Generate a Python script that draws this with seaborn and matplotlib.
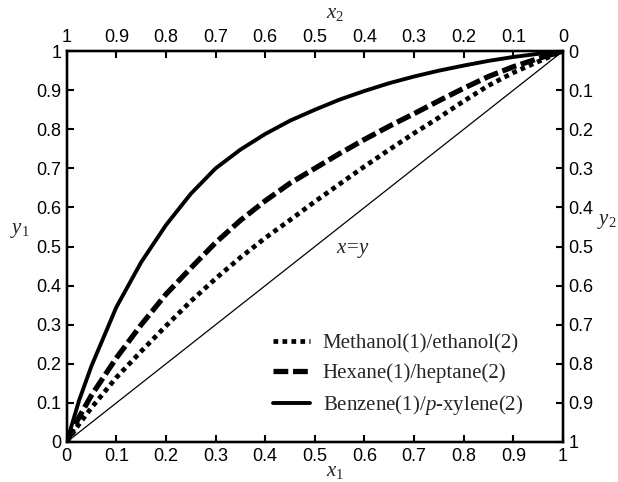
import matplotlib
matplotlib.use("Agg")
import matplotlib.pyplot as plt
import seaborn as sns

# liquid mole fraction of component 1
x1 = [0, 0.025, 0.05, 0.1, 0.15, 0.2, 0.25, 0.3, 0.35, 0.4, 0.45, 0.5,
      0.55, 0.6, 0.65, 0.7, 0.75, 0.8, 0.85, 0.9, 0.95, 1]

# vapour mole fraction of component 1
y_methanol = [0, 0.046, 0.088, 0.165, 0.232, 0.297, 0.36, 0.418, 0.472, 0.522, 0.568, 0.615,
              0.66, 0.705, 0.748, 0.79, 0.83, 0.872, 0.912, 0.945, 0.973, 1]
y_hexane = [0, 0.064, 0.12, 0.215, 0.30, 0.378, 0.445, 0.51, 0.567, 0.617, 0.662, 0.70,
            0.738, 0.774, 0.808, 0.84, 0.873, 0.905, 0.935, 0.96, 0.981, 1]
y_benzene = [0, 0.107, 0.195, 0.345, 0.46, 0.555, 0.635, 0.70, 0.748, 0.788, 0.822, 0.85,
             0.876, 0.898, 0.918, 0.935, 0.95, 0.963, 0.975, 0.985, 0.993, 1]
diag = [0, 1]

labels = ["Methanol(1)/ethanol(2)", "Hexane(1)/heptane(2)",
          "Benzene(1)/$p$-xylene(2)"]

ticks = [0, 0.1, 0.2, 0.3, 0.4, 0.5, 0.6, 0.7, 0.8, 0.9, 1]
tick_labels = ["0", "0.1", "0.2", "0.3", "0.4", "0.5", "0.6", "0.7", "0.8", "0.9", "1"]

sns.set_style("ticks")
plt.rcParams["font.family"] = ["Liberation Sans", "DejaVu Sans"]
plt.rcParams["mathtext.fontset"] = "custom"
plt.rcParams["mathtext.rm"] = "Liberation Serif"
plt.rcParams["mathtext.it"] = "Liberation Serif:italic"

fig, ax = plt.subplots(figsize=(6.18, 4.82), dpi=100)
fig.subplots_adjust(left=0.108, right=0.911, bottom=0.083, top=0.894)

sns.lineplot(x=x1, y=y_methanol, ax=ax, color="black", linewidth=3.4,
             linestyle=(0, (1, 0.9)), label=labels[0])
sns.lineplot(x=x1, y=y_hexane, ax=ax, color="black", linewidth=3.8,
             linestyle=(0, (2.8, 0.9)), label=labels[1])
sns.lineplot(x=x1, y=y_benzene, ax=ax, color="black", linewidth=2.8,
             linestyle="-", label=labels[2])
sns.lineplot(x=diag, y=diag, ax=ax, color="black", linewidth=0.9)

ax.set_xlim(0, 1)
ax.set_ylim(0, 1)
ax.set_xticks(ticks)
ax.set_xticklabels(tick_labels)
ax.set_yticks(ticks)
ax.set_yticklabels(tick_labels)

serif = {"family": "Liberation Serif", "size": 15}
ax.text(0.577, 0.49, "$x\\!=\\!y$", fontsize=15, ha="center", va="center")

ax.set_xlabel("$x_1$", fontsize=15)
ax.xaxis.set_label_coords(0.54, -0.05)
ax.set_ylabel("$y_1$", fontsize=15, rotation=0, ha="center", va="center")
ax.yaxis.set_label_coords(-0.095, 0.54)

# top axis: x2 = 1 - x1
axt = ax.twiny()
axt.set_xlim(1, 0)
axt.set_xticks(ticks)
axt.set_xticklabels(tick_labels)
axt.set_xlabel("$x_2$", fontsize=15)
axt.xaxis.set_label_coords(0.54, 1.084)

# right axis: y2 = 1 - y1
axr = ax.twinx()
axr.set_ylim(1, 0)
axr.set_yticks(ticks)
axr.set_yticklabels(tick_labels)
axr.set_ylabel("$y_2$", fontsize=15, rotation=0, ha="center", va="center")
axr.yaxis.set_label_coords(1.088, 0.563)

for a in (ax, axt, axr):
    a.tick_params(direction="in", length=5, width=1.5, labelsize=13, pad=4,
                  colors="black")
    for s in a.spines.values():
        s.set_linewidth(1.6)
        s.set_color("black")

leg = ax.legend(loc="upper left", bbox_to_anchor=(0.415, 0.277), frameon=False,
                prop=serif, handlelength=1.8, handletextpad=0.6,
                labelspacing=0.48, borderpad=0, borderaxespad=0)

fig.savefig("out.png", dpi=100)
